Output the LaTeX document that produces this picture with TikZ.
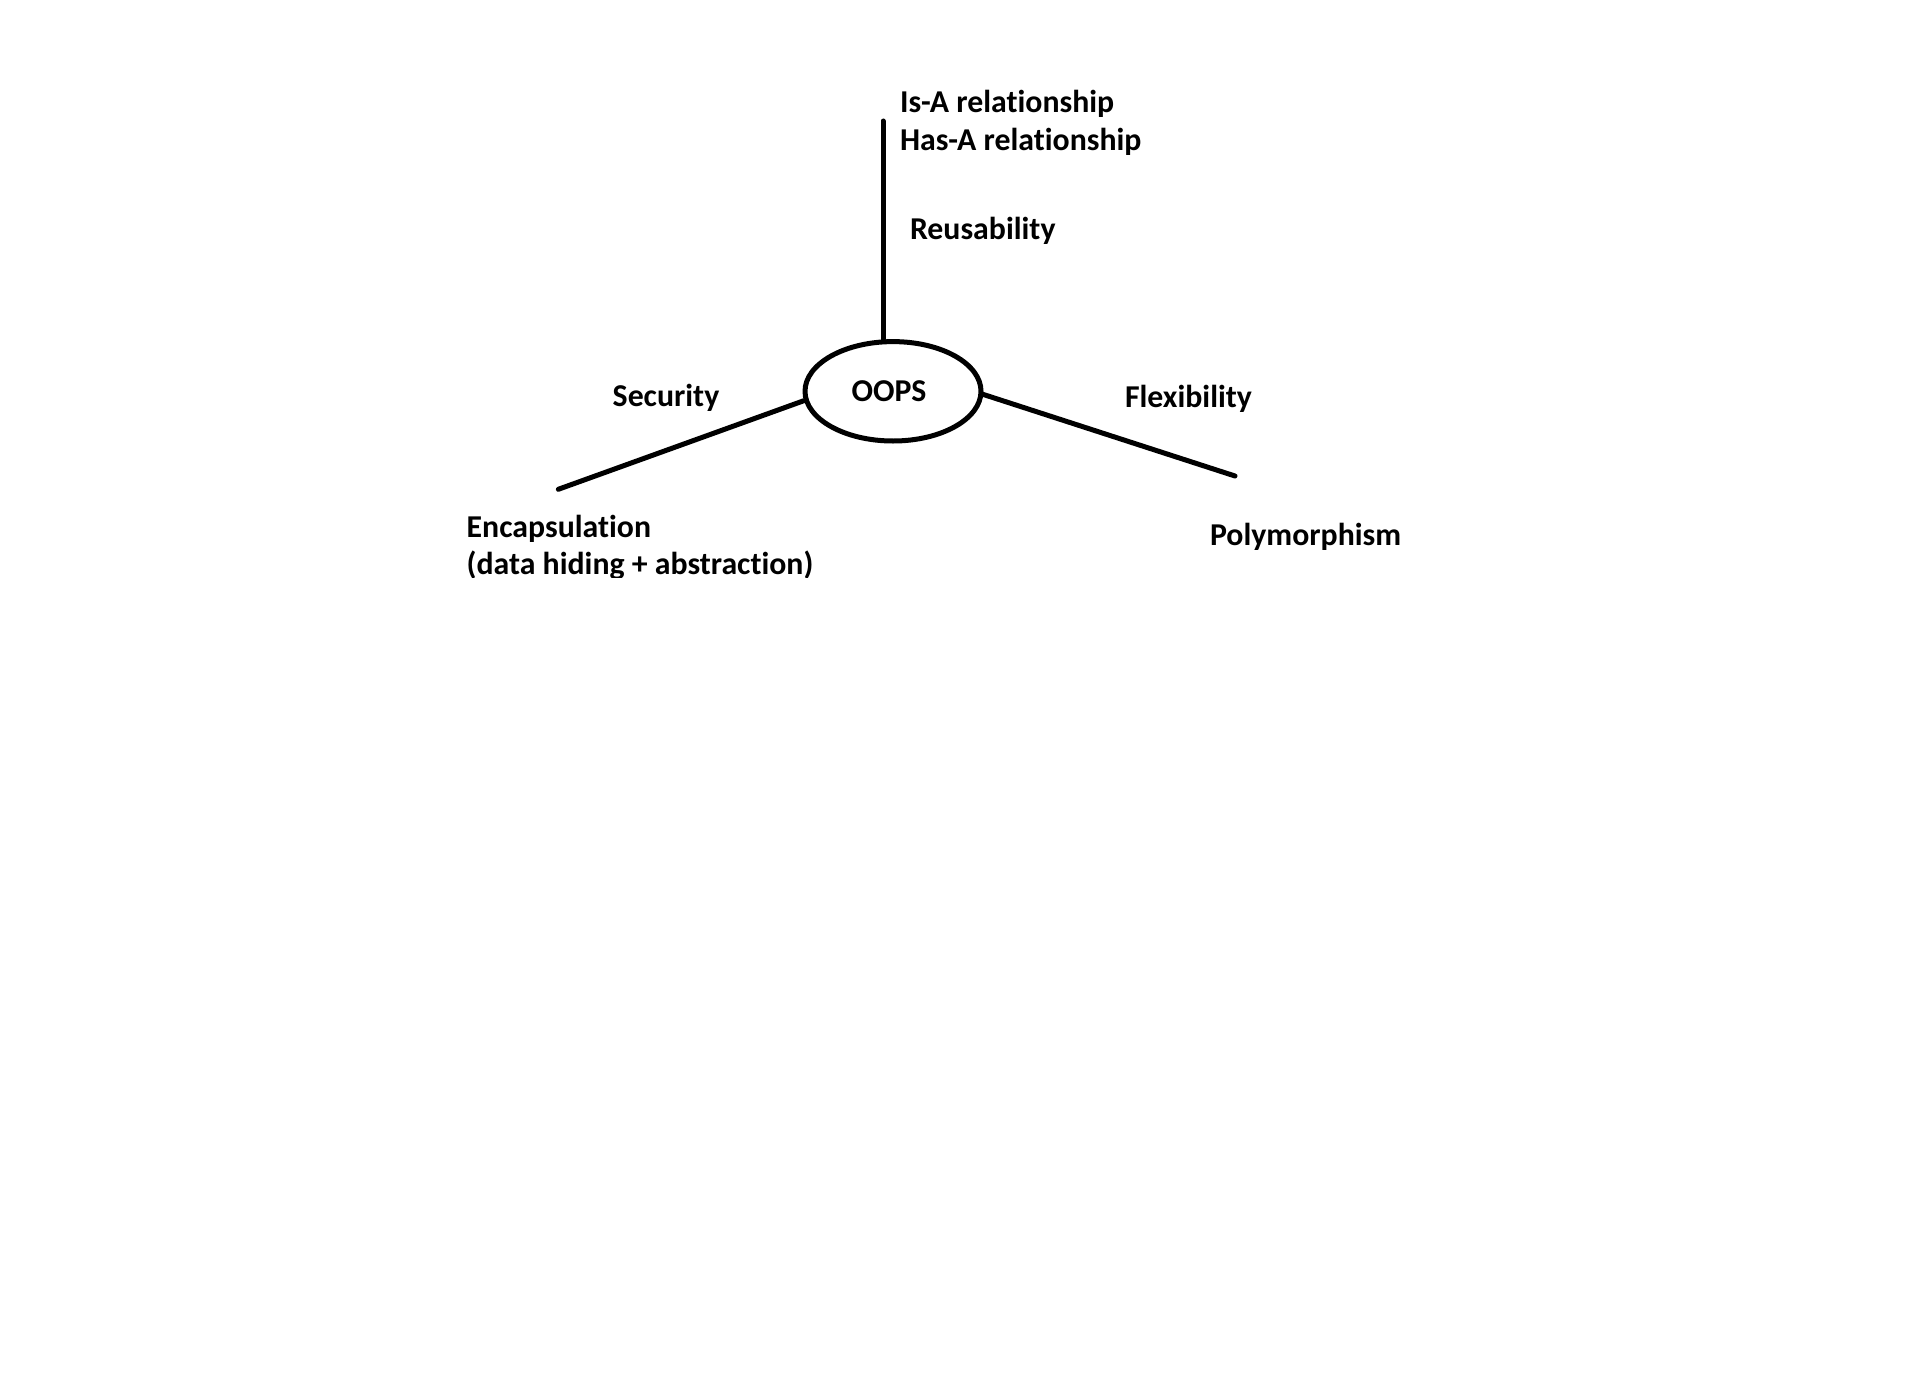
\documentclass[tikz,border=0pt]{standalone}
\usepackage{fontspec}
\setmainfont{Carlito}[Ligatures={NoCommon}]
\usetikzlibrary{shapes.geometric}
\tikzset{
  lbl/.style={anchor=base west, inner sep=0pt, outer sep=0pt, font=\fontsize{15.9pt}{19pt}\selectfont\bfseries},
  hub/.style={draw, ellipse, line width=2.5pt, minimum width=88pt, minimum height=49.7pt, inner sep=0pt},
  conn/.style={line width=2.5pt, line cap=round}
}
\begin{document}
\begin{tikzpicture}[x=0.5pt,y=-0.5pt]
\useasboundingbox (0,0) rectangle (1914,1375);
\fill[white] (0,0) rectangle (1914,1375);
\node[hub] (oops) at (893,391.3) {};
\node[anchor=base, inner sep=0pt, font=\fontsize{15.9pt}{19pt}\selectfont\bfseries] (oopslbl) at (889,401) {OOPS};
\coordinate (rtop) at (883,121);
\coordinate (lend) at (558.3,489.3);
\coordinate (rend) at (1235,476);
\draw[conn] (rtop) -- (rtop |- oops.north);
\draw[conn] (oops.186) -- (lend);
\draw[conn] (oops.-2) -- (rend);
\node[lbl] (isa) at (900,112.3) {Is-A relationship};
\node[lbl] (hasa) at (900,150.7) {Has-A relationship};
\node[lbl] (reuse) at (910,240) {Reusability};
\node[lbl] (sec) at (612.7,406) {Security};
\node[lbl] (flex) at (1125,407.3) {Flexibility};
\node[lbl] (enc1) at (466.7,537.3) {Encapsulation};
\begin{scope}
\clip (0,0) rectangle (1914,577);
\node[lbl] (enc2) at (466.7,574.5) {(data hiding + abstraction)};
\end{scope}
\node[lbl] (poly) at (1210,545) {Polymorphism};
\end{tikzpicture}
\end{document}
